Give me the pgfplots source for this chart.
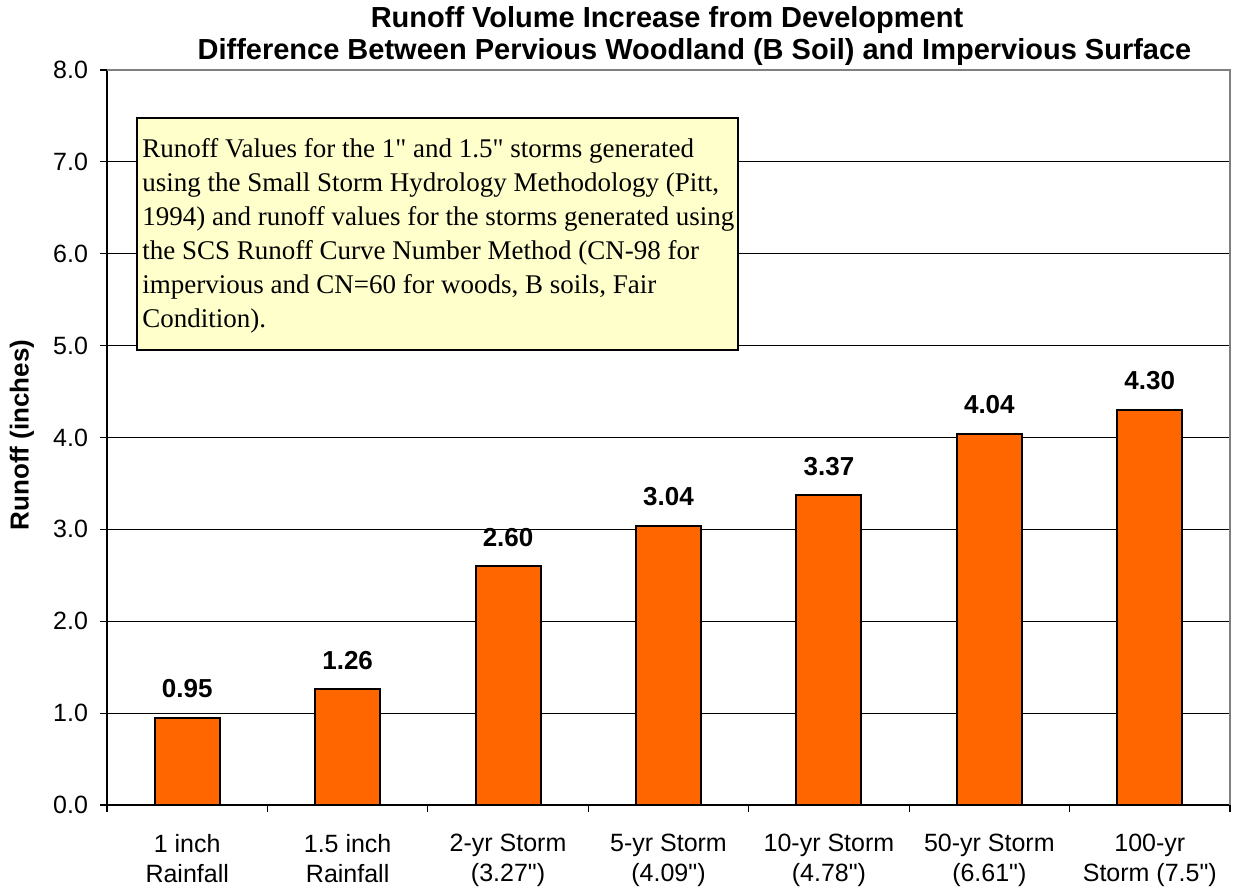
\documentclass[border=0pt]{standalone}
\usepackage{fontspec}
\setmainfont{Liberation Sans}
\newfontfamily\arial{Liberation Sans}
\newfontfamily\boxfont{Liberation Serif}
\usepackage{pgfplots}
\pgfplotsset{compat=1.18}
\definecolor{barorange}{HTML}{FF6600}
\definecolor{boxyellow}{HTML}{FFFFCC}
\begin{document}
\begin{tikzpicture}[x=1pt,y=1pt]
\useasboundingbox (-53.5,-44.5) rectangle (563,402.5);
\begin{axis}[at={(0,0)}, anchor=south west, scale only axis,
  width=561.5pt, height=367.5pt,
  xmin=-0.5, xmax=6.5, ymin=0, ymax=8,
  ybar, bar width=32.5pt,
  axis x line*=bottom, axis y line*=left,
  axis line style={black, line width=0.7pt},
  /pgf/number format/assume math mode=true,
  ytick={0,1,...,8},
  yticklabel style={/pgf/number format/fixed, /pgf/number format/fixed zerofill, /pgf/number format/precision=1, xshift=-2.5pt},
  xtick={-0.5,0.5,...,6.5}, xticklabels={},
  extra x ticks={0,1,2,3,4,5,6},
  extra x tick labels={{1 inch\\Rainfall},{1.5 inch\\Rainfall},{2-yr Storm\\(3.27")},{5-yr Storm\\(4.09")},{10-yr Storm\\(4.78")},{50-yr Storm\\(6.61")},{100-yr\\Storm (7.5")}},
  extra x tick style={major tick length=0pt, grid=none},
  xticklabel style={align=center, font=\arial\fontsize{12.5}{15}\selectfont, yshift=-11pt},
  yticklabel style={font=\arial\fontsize{12.5}{15}\selectfont},
  tick align=outside, major tick length=3.5pt,
  tick style={black, line width=0.6pt},
  ymajorgrids, major grid style={black, line width=0.5pt},
  nodes near coords,
  nodes near coords style={font=\bfseries\fontsize{13}{16}\selectfont, /pgf/number format/fixed, /pgf/number format/fixed zerofill, /pgf/number format/precision=2, anchor=south, yshift=6pt},
]
\addplot[fill=barorange, draw=black, line width=1pt] coordinates {
  (0,0.95) (1,1.26) (2,2.60) (3,3.04) (4,3.37) (5,4.04) (6,4.30)};
\end{axis}
\draw[gray, line width=1pt] (0,367.5) -- (561.5,367.5) -- (561.5,0);
\node[anchor=base, inner sep=0pt, font=\bfseries\fontsize{14.5}{17}\selectfont] at (280,388.5) {Runoff Volume Increase from Development};
\node[anchor=base, inner sep=0pt, font=\bfseries\fontsize{14.5}{17}\selectfont] at (293.75,372.5) {Difference Between Pervious Woodland (B Soil) and Impervious Surface};
\node[rotate=90, font=\bfseries\fontsize{13}{16}\selectfont] at (-42.5,185) {Runoff (inches)};
\draw[black, line width=0.8pt, fill=boxyellow] (15,227.5) rectangle (315.5,343.5);
\begin{scope}[every node/.style={anchor=base west, inner sep=0pt, font=\boxfont\fontsize{13.5}{17}\selectfont}]
\node at (17.5,323.5) {Runoff Values for the 1" and 1.5" storms generated};
\node at (17.5,306.5) {using the Small Storm Hydrology Methodology (Pitt,};
\node at (17.5,289.5) {1994) and runoff values for the storms generated using};
\node at (17.5,272.5) {the SCS Runoff Curve Number Method (CN-98 for};
\node at (17.5,255.5) {impervious and CN=60 for woods, B soils, Fair};
\node at (17.5,238.5) {Condition).};
\end{scope}
\end{tikzpicture}
\end{document}
